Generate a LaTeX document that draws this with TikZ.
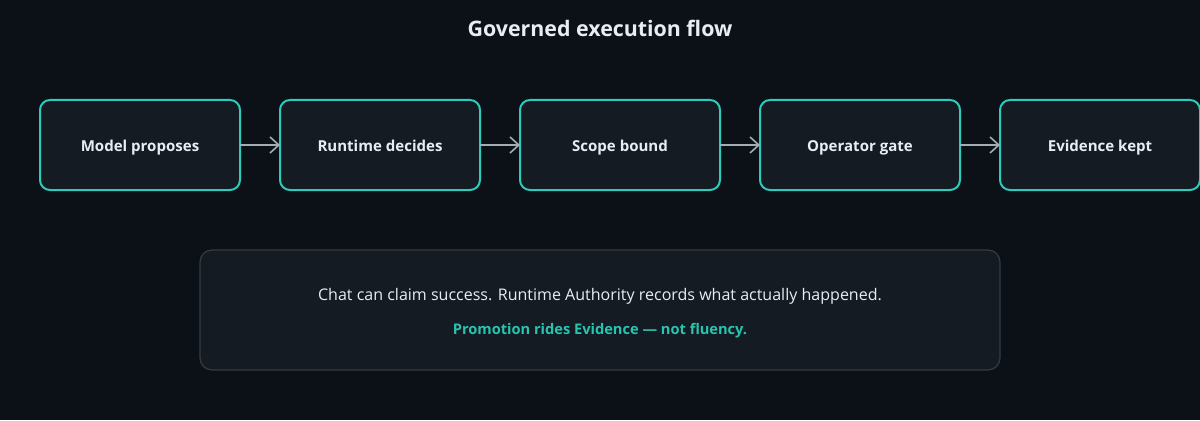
\documentclass[tikz,border=0pt]{standalone}
\usepackage{fontspec}
\setmainfont{Open Sans}
\usetikzlibrary{arrows.meta,positioning}
\definecolor{bgdark}{HTML}{0B1116}
\definecolor{boxfill}{HTML}{141B22}
\definecolor{tealline}{HTML}{2CCBBE}
\definecolor{tealtext}{HTML}{27C4B0}
\definecolor{lighttext}{HTML}{E6EDF3}
\definecolor{arrowgray}{HTML}{A3ADB6}
\definecolor{noteline}{HTML}{343B43}
\tikzset{
  stagebox/.style={draw=tealline, line width=0.05cm, fill=boxfill, rounded corners=0.25cm, outer sep=0pt,
    minimum width=5cm, minimum height=2.25cm, text height=1.1em, text depth=0.2em,
    text=lighttext, font=\fontsize{10.7pt}{13pt}\selectfont\bfseries},
  flowarrow/.style={draw=arrowgray, line width=0.04cm, -{Straight Barb[length=0.22cm,width=0.4cm]}},
  notebox/.style={draw=noteline, line width=0.03cm, fill=boxfill, rounded corners=0.3cm,
    minimum width=20cm, minimum height=3cm}
}
\begin{document}
\begin{tikzpicture}
  \fill[bgdark] (0,0) rectangle (30,10.5);
  \useasboundingbox (0,0) rectangle (30,10.5);
  % title
  \node[text=lighttext, font=\fontsize{15.2pt}{18pt}\selectfont\bfseries] (title) at (15,9.8) {Governed execution flow};
  % stages
  \node[stagebox] (model) at (3.5,6.875) {Model proposes};
  \node[stagebox, right=1cm of model] (runtime) {Runtime decides};
  \node[stagebox, right=1cm of runtime] (scope) {Scope bound};
  \node[stagebox, right=1cm of scope] (gate) {Operator gate};
  \node[stagebox, right=1cm of gate] (evidence) {Evidence kept};
  \draw[flowarrow] (model) -- (runtime);
  \draw[flowarrow] (runtime) -- (scope);
  \draw[flowarrow] (scope) -- (gate);
  \draw[flowarrow] (gate) -- (evidence);
  % note
  \node[notebox] (note) at (15,2.75) {};
  \node[text=lighttext, font=\fontsize{11.4pt}{13pt}\selectfont] (claim) at (15,3.1)
    {Chat can claim success. Runtime Authority records what actually happened.};
  \node[text=tealtext, font=\fontsize{10.4pt}{12pt}\selectfont\bfseries] (motto) at (15,2.225)
    {Promotion rides Evidence — not fluency.};
\end{tikzpicture}
\end{document}
